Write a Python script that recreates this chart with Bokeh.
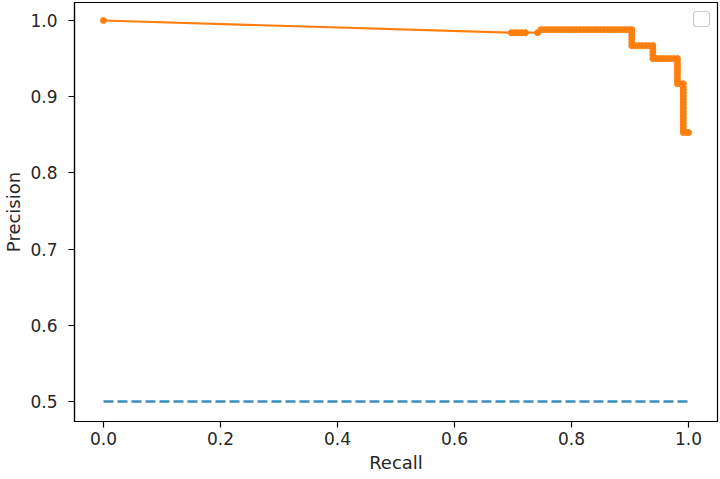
from bokeh.plotting import figure
from bokeh.models import Range1d, BoxAnnotation, FixedTicker, PrintfTickFormatter
from bokeh.embed import file_html
from bokeh.resources import INLINE

# Precision-recall curve (model)
recall = [0.0,
          0.697, 0.703, 0.709, 0.715, 0.721, 0.742,
          0.748, 0.754, 0.760, 0.766, 0.772, 0.778, 0.784, 0.790, 0.796, 0.802,
          0.808, 0.814, 0.820, 0.826, 0.832, 0.838, 0.844, 0.850, 0.856, 0.862,
          0.868, 0.874, 0.880, 0.886, 0.892, 0.898, 0.903,
          0.903, 0.903, 0.903, 0.903, 0.903,
          0.909, 0.915, 0.921, 0.927, 0.933, 0.939,
          0.939, 0.939, 0.939, 0.939,
          0.945, 0.951, 0.957, 0.963, 0.969, 0.975, 0.981,
          0.981, 0.981, 0.981, 0.981, 0.981, 0.981, 0.981, 0.981,
          0.986, 0.991,
          0.991, 0.991, 0.991, 0.991, 0.991, 0.991, 0.991, 0.991,
          0.991, 0.991, 0.991, 0.991, 0.991, 0.991, 0.991, 0.991,
          0.997, 1.0]
precision = [1.0,
             0.984, 0.984, 0.984, 0.984, 0.984, 0.984,
             0.988, 0.988, 0.988, 0.988, 0.988, 0.988, 0.988, 0.988, 0.988, 0.988,
             0.988, 0.988, 0.988, 0.988, 0.988, 0.988, 0.988, 0.988, 0.988, 0.988,
             0.988, 0.988, 0.988, 0.988, 0.988, 0.988, 0.988,
             0.983, 0.979, 0.975, 0.971, 0.967,
             0.967, 0.967, 0.967, 0.967, 0.967, 0.967,
             0.963, 0.959, 0.955, 0.950,
             0.950, 0.950, 0.950, 0.950, 0.950, 0.950, 0.950,
             0.946, 0.942, 0.938, 0.934, 0.930, 0.925, 0.921, 0.917,
             0.917, 0.917,
             0.913, 0.909, 0.905, 0.901, 0.897, 0.893, 0.889, 0.885,
             0.881, 0.877, 0.873, 0.869, 0.865, 0.861, 0.857, 0.853,
             0.853, 0.853]

# No-skill baseline
baseline_recall = [0.0, 1.0]
baseline_precision = [0.5, 0.5]

x_ticks = [0.0, 0.2, 0.4, 0.6, 0.8, 1.0]
y_ticks = [0.5, 0.6, 0.7, 0.8, 0.9, 1.0]

FONT = "DejaVu Sans"
TXT = "#262626"

X0, X1 = -0.0495, 1.0495
Y0, Y1 = 0.4738, 1.0236

p = figure(width=720, height=479, output_backend="svg", toolbar_location=None,
           x_range=Range1d(X0, X1), y_range=Range1d(Y0, Y1),
           min_border_left=73, min_border_right=3, min_border_top=2,
           min_border_bottom=58)

p.line(baseline_recall, baseline_precision, line_color="#1f77b4",
       line_width=2.5, line_dash="10 4", line_alpha=0.85)
p.line(recall, precision, line_color="#ff7f0e", line_width=2.2)
p.scatter(recall, precision, size=6, fill_color="#ff7f0e", line_color="#ff7f0e")

p.xgrid.visible = False
p.ygrid.visible = False
p.outline_line_color = "black"
p.outline_line_width = 1.2
p.background_fill_color = "white"
p.border_fill_color = "white"

for ax in (p.xaxis[0], p.yaxis[0]):
    ax.axis_line_color = "black"
    ax.axis_line_width = 1.2
    ax.major_tick_line_color = "black"
    ax.major_tick_line_width = 1.2
    ax.major_tick_out = 6
    ax.major_tick_in = 0
    ax.minor_tick_line_color = None
    ax.major_label_text_font = FONT
    ax.major_label_text_font_size = "17px"
    ax.major_label_text_color = TXT
    ax.axis_label_text_font = FONT
    ax.axis_label_text_font_size = "18px"
    ax.axis_label_text_font_style = "normal"
    ax.axis_label_text_color = TXT
    ax.formatter = PrintfTickFormatter(format="%.1f")

p.xaxis[0].ticker = FixedTicker(ticks=x_ticks)
p.yaxis[0].ticker = FixedTicker(ticks=y_ticks)
p.xaxis[0].axis_label = "Recall"
p.yaxis[0].axis_label = "Precision"
p.xaxis[0].major_label_standoff = 4
p.xaxis[0].axis_label_standoff = 4
p.yaxis[0].major_label_standoff = 11
p.yaxis[0].axis_label_standoff = 3

# empty legend frame (as in the original figure), placed by frame fractions
bx0, bx1, by0, by1 = 0.9627, 0.9876, 0.9427, 0.9785
legend_box = BoxAnnotation(left=X0 + bx0 * (X1 - X0), right=X0 + bx1 * (X1 - X0),
                           bottom=Y0 + by0 * (Y1 - Y0), top=Y0 + by1 * (Y1 - Y0),
                           fill_color="white", fill_alpha=1.0,
                           line_color="#cccccc", line_width=1.2, line_alpha=1.0,
                           border_radius=3)
p.add_layout(legend_box)

open("out.html", "w").write(file_html(p, INLINE))
